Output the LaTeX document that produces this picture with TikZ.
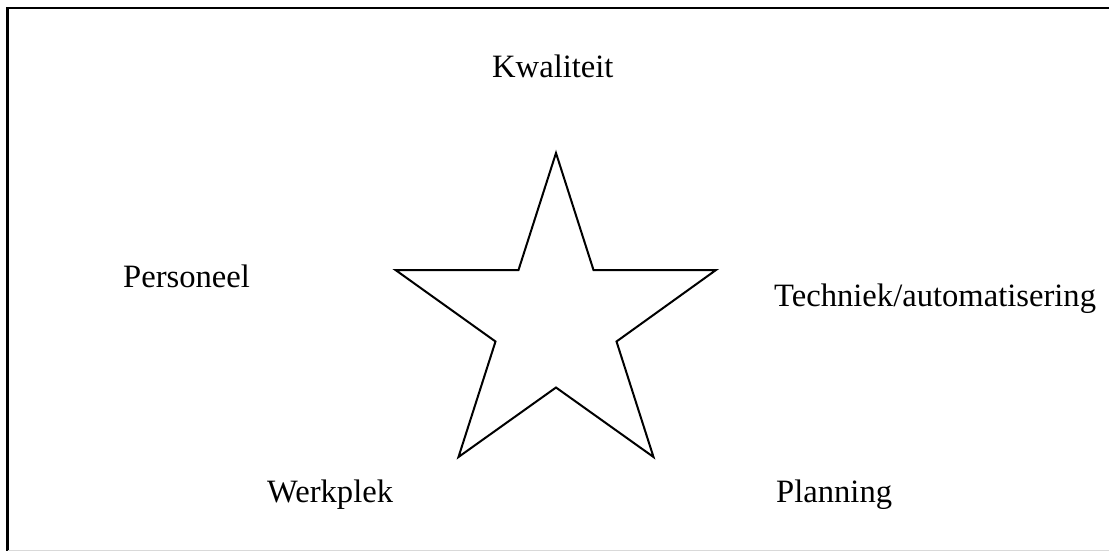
\documentclass[tikz,border=0pt]{standalone}
\usepackage{fontspec}
\setmainfont{Liberation Serif}
\begin{document}
\begin{tikzpicture}[x=1pt,y=-1pt,
  lbl/.style={anchor=base west,inner sep=0pt,font=\fontsize{32.6}{38}\selectfont},
  frame/.style={line width=2.5pt,black},
  starline/.style={line width=2pt,black,line join=miter}]
\useasboundingbox (0,0) rectangle (1109,552);
\fill[white] (0,0) rectangle (1109,552);
% frame
\draw[frame] (1109,8) -- (7.5,8) -- (7.5,551);
\draw[line width=1.5pt,black!15] (7.5,550.5) -- (1109,550.5);
% star
\coordinate (t) at (556,153);
\coordinate (i1) at (593.5,270);
\coordinate (r) at (716,270);
\coordinate (i2) at (616.5,341.5);
\coordinate (br) at (653.5,457);
\coordinate (i3) at (556,387.5);
\coordinate (bl) at (458.5,457);
\coordinate (i4) at (495.5,341.5);
\coordinate (l) at (395.5,270);
\coordinate (i5) at (518.5,270);
\draw[starline] (t) -- (i1) -- (r) -- (i2) -- (br) -- (i3) -- (bl) -- (i4) -- (l) -- (i5) -- cycle;
% labels
\node[lbl] (kw) at (492,77) {Kwaliteit};
\node[lbl] (pe) at (123,287) {Personeel};
\node[lbl] (te) at (774,306) {Techniek/automatisering};
\node[lbl] (we) at (267,502) {Werkplek};
\node[lbl] (pl) at (776,502) {Planning};
\end{tikzpicture}
\end{document}
